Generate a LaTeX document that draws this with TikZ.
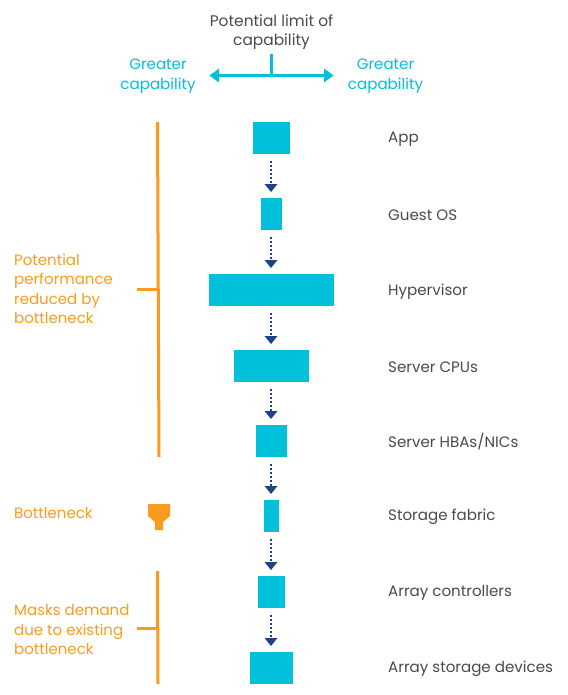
\documentclass[tikz,border=0pt]{standalone}
\usepackage{fontspec}
\setmainfont{Poppins}
\usetikzlibrary{arrows.meta}
\definecolor{cyanc}{HTML}{00C1D9}
\definecolor{orangec}{HTML}{FB9B1E}
\definecolor{navyc}{HTML}{1D428A}
\definecolor{greyc}{HTML}{4A4A4A}
\tikzset{
  x=1pt,y=-1pt,
  stage/.style={fill=cyanc,draw=none,inner sep=0,outer sep=0,minimum height=32pt},
  lab/.style={anchor=west,inner sep=0,text=greyc,font=\fontsize{15.1}{19}\selectfont},
  note/.style={anchor=west,inner sep=0,text=orangec,align=left,font=\fontsize{15}{19.5}\selectfont},
  captext/.style={inner sep=0,text=cyanc,align=center,font=\fontsize{15.1}{19.5}\selectfont},
  flow/.style={navyc,line width=1.8pt,dash pattern=on 2pt off 2pt},
  bar/.style={orangec,line width=3pt},
  limit/.style={cyanc,line width=3.6pt}
}
\begin{document}
\begin{tikzpicture}
\useasboundingbox (0,0) rectangle (567,695);
\node[stage,minimum width=37pt] (n1) at (271.5,138) {};
\node[stage,minimum width=21pt] (n2) at (271.5,214) {};
\node[stage,minimum width=125pt] (n3) at (271.5,290) {};
\node[stage,minimum width=75pt] (n4) at (271.5,366) {};
\node[stage,minimum width=31pt] (n5) at (271.5,441) {};
\node[stage,minimum width=15pt] (n6) at (271.5,516) {};
\node[stage,minimum width=27pt] (n7) at (271.5,592) {};
\node[stage,minimum width=43pt] (n8) at (271.5,668) {};
\foreach \a/\b in {n1/n2,n2/n3,n3/n4,n4/n5,n5/n6,n6/n7,n7/n8}{
  \draw[flow] ([xshift=-0.5pt,yshift=-7pt]\a.south) -- ([xshift=-0.5pt,yshift=14pt]\b.north);
  \fill[navyc] ([xshift=-7pt,yshift=14pt]\b.north) -- ([xshift=6pt,yshift=14pt]\b.north) -- ([xshift=-0.5pt,yshift=6pt]\b.north) -- cycle;
}
\node[lab] (t1) at (388,139.5) {App};
\node[lab] (t2) at (388,215) {Guest OS};
\node[lab] (t3) at (388,291.5) {Hypervisor};
\node[lab] (t4) at (388,367) {Server CPUs};
\node[lab] (t5) at (388,442) {Server HBAs/NICs};
\node[lab] (t6) at (388,517) {Storage fabric};
\node[lab] (t7) at (388,593) {Array controllers};
\node[lab] (t8) at (388,669) {Array storage devices};
\node[inner sep=0,text=greyc,align=center,font=\fontsize{15.4}{19.5}\selectfont] (top) at (271.5,32) {Potential limit of\\capability};
\node[captext] (gl) at (158,76) {Greater\\capability};
\node[captext] (gr) at (385.5,76) {Greater\\capability};
\coordinate (ax) at (271.5,75);
\coordinate (at) at (271.5,54);
\coordinate (al) at (212,75.5);
\coordinate (ar) at (331,75.5);
\draw[limit] (at) -- (ax);
\draw[limit] (al) -- (ar);
\fill[cyanc] (209.5,75.5) -- (219,68.5) -- (219,82.5) -- cycle;
\fill[cyanc] (333.5,75.5) -- (324,68.5) -- (324,82.5) -- cycle;
\node[note] (p1) at (14,289) {Potential\\performance\\reduced by\\bottleneck};
\node[note] (p2) at (14,513) {Bottleneck};
\node[note] (p3) at (14,630) {Masks demand\\due to existing\\bottleneck};
\coordinate (b1a) at (157.5,122);
\coordinate (b1b) at (159,457);
\coordinate (b1c) at (137,289.5);
\coordinate (b1d) at (158,289.5);
\coordinate (b2a) at (157.5,571);
\coordinate (b2b) at (158,684);
\coordinate (b2c) at (137,628);
\coordinate (b2d) at (158,628);
\draw[bar] (b1a) -- (b1b);
\draw[bar] (b1c) -- (b1d);
\draw[bar] (b2a) -- (b2b);
\draw[bar] (b2c) -- (b2d);
\fill[orangec] (148,504) -- (170,504) -- (170,516) -- (163,522) -- (163,530) -- (155,530) -- (155,522) -- (148,516) -- cycle;
\end{tikzpicture}
\end{document}
